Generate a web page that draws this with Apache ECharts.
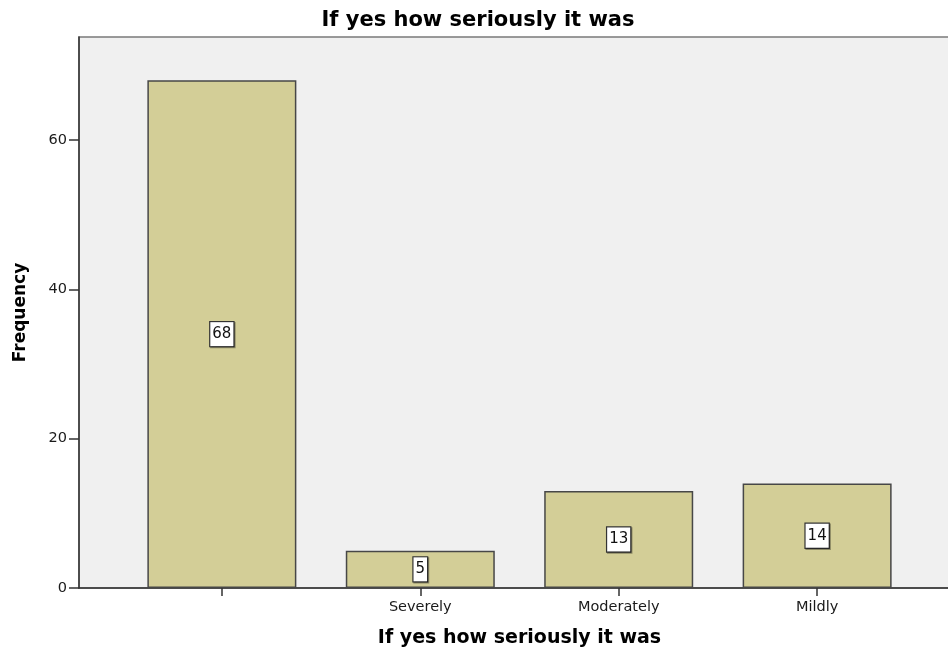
<!DOCTYPE html>
<html>
<head>
<meta charset="utf-8">
<style>
  html, body { margin: 0; padding: 0; background: #fff; }
  #chart { width: 948px; height: 652px; }
</style>
<script src="https://cdn.jsdelivr.net/npm/echarts@6/dist/echarts.min.js"></script>
</head>
<body>
<div id="chart"></div>
<script>
// Response categories and their counts
const categories = ["", "Severely", "Moderately", "Mildly"];
const frequencies = [68, 5, 13, 14];
const yTicks = [0, 20, 40, 60];

const FONT = "'DejaVu Sans', Verdana, sans-serif";

const chart = echarts.init(document.getElementById('chart'), null, { renderer: 'canvas' });

const barData = frequencies.map((v, i) => [i, v]);
const tickPositions = categories.map((c, i) => i);

chart.setOption({
  animation: false,
  backgroundColor: '#ffffff',
  title: {
    text: 'If yes how seriously it was',
    left: 473,
    textAlign: 'center',
    top: 5,
    textStyle: { fontFamily: FONT, fontSize: 21, fontWeight: 'bold', color: '#000' }
  },
  grid: {
    left: 79,
    top: 37,
    width: 881,
    bottom: 64,
    outerBoundsMode: 'none',
    show: true,
    backgroundColor: '#f0f0f0',
    borderColor: '#7a7a7a',
    borderWidth: 1.5
  },
  xAxis: {
    type: 'value',
    min: -0.72,
    max: 3.72,
    splitLine: { show: false },
    name: 'If yes how seriously it was',
    nameLocation: 'middle',
    nameGap: 41,
    nameTextStyle: { fontFamily: FONT, fontSize: 19, fontWeight: 'bold', color: '#000' },
    axisLine: { show: true, onZero: false, lineStyle: { color: '#333', width: 1.5 } },
    axisTick: {
      show: true,
      length: 8,
      customValues: tickPositions,
      lineStyle: { color: '#333', width: 1.5 }
    },
    axisLabel: {
      customValues: tickPositions,
      formatter: v => categories[Math.round(v)] || '',
      margin: 12,
      fontFamily: FONT,
      fontSize: 14.5,
      color: '#1a1a1a'
    }
  },
  yAxis: {
    type: 'value',
    min: 0,
    max: 73.8,
    splitLine: { show: false },
    name: 'Frequency',
    nameLocation: 'middle',
    nameGap: 50,
    nameTextStyle: { fontFamily: FONT, fontSize: 17, fontWeight: 'bold', color: '#000' },
    axisLine: { show: true, onZero: false, lineStyle: { color: '#333', width: 1.5 } },
    axisTick: {
      show: true,
      length: 10,
      customValues: yTicks,
      lineStyle: { color: '#333', width: 1.5 }
    },
    axisLabel: {
      customValues: yTicks,
      margin: 12,
      fontFamily: FONT,
      fontSize: 14.5,
      color: '#1a1a1a'
    }
  },
  series: [{
    type: 'bar',
    data: barData,
    barWidth: 149,
    itemStyle: { color: '#d3ce97', borderColor: '#474747', borderWidth: 1.5 },
    label: {
      show: true,
      position: 'inside',
      formatter: p => String(p.value[1]),
      fontFamily: FONT,
      fontSize: 15,
      lineHeight: 15,
      color: '#111',
      backgroundColor: '#ffffff',
      borderColor: '#333',
      borderWidth: 1.2,
      padding: [5, 2, 4, 2],
      shadowColor: 'rgba(0,0,0,0.35)',
      shadowOffsetX: 1,
      shadowOffsetY: 1,
      shadowBlur: 0
    }
  }]
});
</script>
</body>
</html>
